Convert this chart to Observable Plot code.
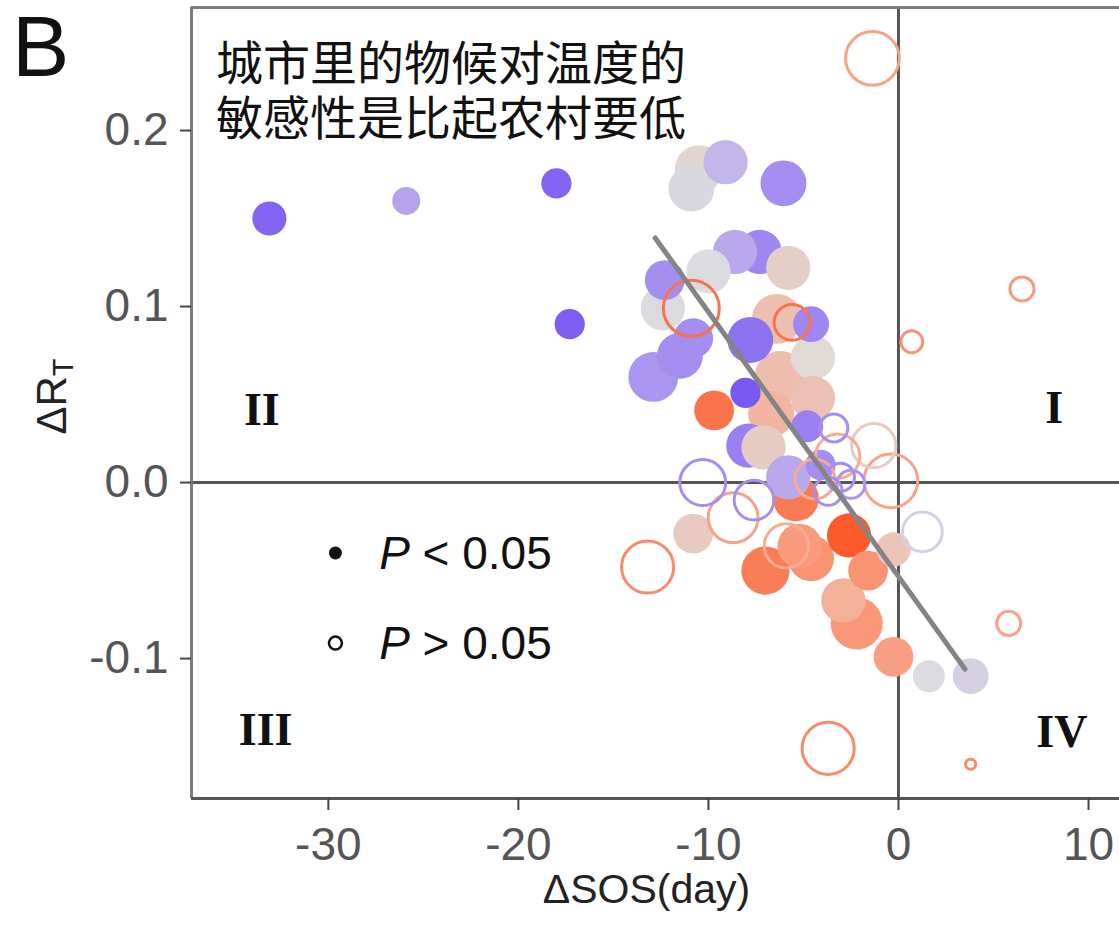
<!DOCTYPE html>
<html><head><meta charset="utf-8">
<script src="https://cdn.jsdelivr.net/npm/d3@7"></script>
<script src="https://cdn.jsdelivr.net/npm/@observablehq/plot@0.6"></script>
<style>
body{margin:0;background:#fff;}
#chart{position:relative;width:1119px;height:926px;overflow:hidden;}
</style>
</head><body><div id="chart"></div>
<script>
// ---- data ----
// filled = P < 0.05, open = P > 0.05
const sosFilled  = [-33.1,-25.9,-18.0,-17.3,-10.9,-9.1,-10.5,-6.05,-7.3,-8.6,-10.0,-12.3,-12.4,-5.8,-10.8,-11.5,-12.9,-7.8,-4.6,-6.4,-4.5,-6.2,-4.5,-8.05,-9.7,-6.7,-4.8,-7.9,-7.1,-4.1,-5.8,-5.4,-10.8,-0.26,-2.6,-5.2,-4.6,-7.0,-1.6,-2.9,-2.2,-0.26,1.6,3.8];
const rtFilled   = [0.150,0.160,0.170,0.090,0.167,0.182,0.178,0.170,0.131,0.131,0.120,0.115,0.099,0.122,0.082,0.072,0.060,0.081,0.090,0.093,0.071,0.060,0.048,0.051,0.041,0.039,0.032,0.021,0.020,0.010,0.003,-0.009,-0.029,-0.038,-0.030,-0.036,-0.043,-0.050,-0.050,-0.067,-0.080,-0.099,-0.110,-0.110];
const sizeFilled = [6.1,5.0,5.4,5.4,8.2,7.9,8.6,8.2,7.9,7.9,7.9,7.1,7.9,7.9,7.1,8.2,8.9,8.2,6.4,8.9,7.9,9.3,7.9,5.4,7.1,8.2,5.7,7.9,7.9,5.4,7.9,8.2,7.1,6.1,7.9,7.9,8.2,8.6,7.1,7.9,9.3,7.1,5.7,6.4];
const toneFilled = [-0.9,-0.45,-0.9,-0.95,-0.05,-0.3,0.08,-0.6,-0.65,-0.4,-0.02,-0.6,-0.03,0.15,-0.6,-0.6,-0.55,-0.8,-0.65,0.3,0.05,0.32,0.28,-1,0.85,0.4,-0.7,-0.7,0.18,-0.6,-0.4,0.8,0.2,0.25,1,0.6,0.65,0.78,0.65,0.45,0.62,0.58,-0.02,-0.1];

const sosOpen  = [-1.37,-10.9,-5.6,6.5,0.7,-3.4,-1.3,-3.2,-3.05,-2.5,-3.7,-4.4,-0.4,-10.3,-7.6,-8.7,-5.9,-13.2,1.26,5.8,3.8,-3.7];
const rtOpen   = [0.241,0.099,0.091,0.110,0.080,0.031,0.021,0.015,0.003,-0.001,-0.005,0.002,0.001,0.000,-0.010,-0.020,-0.036,-0.048,-0.028,-0.080,-0.160,-0.151];
const sizeOpen = [9.6,10,6.4,4.3,3.9,5.0,7.9,7.9,5.0,5.0,5.0,7.1,9.6,8.2,7.1,8.9,7.9,9.3,7.1,4.3,1.8,9.3];
const toneOpen = [0.55,0.85,0.85,0.6,0.65,-0.6,0.2,0.5,-0.6,-0.55,-0.6,0.5,0.55,-0.6,-0.6,0.55,0.5,0.7,-0.1,0.55,0.7,0.7];

const xTicks = [-30,-20,-10,0,10];
const yTicks = [-0.1,0,0.1,0.2];
const quadrantNames = ["I","II","III","IV"];
const quadrantSOS = [8.2,-33.5,-33.3,8.6];
const quadrantRT  = [0.042,0.041,-0.141,-0.142];
const fitRange = [-12.8, 3.5];
const fitIntercept = -0.0534, fitSlope = -0.01503;
const legendLabels = ["< 0.05", "> 0.05"];
const legendSOS = -29.6, legendTextSOS = -27.3;
const legendRT = [-0.0403, -0.0915];
const noteLines = ["城市里的物候对温度的", "敏感性是比起农村要低"];
const xDomain = [-37.2, 11.63], yDomain = [-0.1795, 0.2699];

// ---- tables ----
const filled = sosFilled.map((x,i)=>({x, y: rtFilled[i], size: sizeFilled[i], tone: toneFilled[i]}));
const open = sosOpen.map((x,i)=>({x, y: rtOpen[i], size: sizeOpen[i], tone: toneOpen[i]}));
const fit = fitRange.map(x=>({x, y: fitIntercept + fitSlope*x}));
const quads = quadrantNames.map((t,i)=>({t, x: quadrantSOS[i], y: quadrantRT[i]}));

const frameColor = "#7d7d7d";
const plot = Plot.plot({
  width: 1119, height: 926,
  marginLeft: 191, marginRight: 0, marginTop: 7, marginBottom: 128,
  style: {fontFamily: "'Liberation Sans', Arial, sans-serif", background: "white", overflow: "visible"},
  x: {domain: xDomain},
  y: {domain: yDomain},
  r: {type: "linear", domain: [0, 10], range: [0, 28]},
  color: {type: "linear", domain: [-1, -0.5, 0, 0.5, 1], range: ["#7857f2", "#b09cf0", "#dedede", "#f7ab92", "#fb5a2b"]},
  marks: [
    Plot.ruleY([0], {stroke: "#555", strokeWidth: 3}),
    Plot.ruleX([0], {stroke: "#555", strokeWidth: 3}),
    Plot.dot(filled, {x: "x", y: "y", r: "size", fill: "tone"}),
    Plot.dot(open, {x: "x", y: "y", r: "size", stroke: "tone", strokeWidth: 3, fill: "none"}),
    Plot.line(fit, {x: "x", y: "y", stroke: "#848484", strokeWidth: 5}),
    Plot.text(quads, {x: "x", y: "y", text: "t", fontFamily: "'Liberation Serif', 'Times New Roman', serif", fontWeight: "bold", fontSize: 46, fill: "#111"}),
    Plot.ruleX([xDomain[0]], {stroke: frameColor, strokeWidth: 3}),
    Plot.ruleY([yDomain[0]], {stroke: "#555", strokeWidth: 3}),
    Plot.ruleY([yDomain[1]], {stroke: frameColor, strokeWidth: 3}),
    Plot.axisX({ticks: xTicks, tickFormat: d => String(d), tickSize: 12, tickPadding: 17, fontSize: 46, stroke: "#444", fill: "#555", strokeWidth: 2, label: null}),
    Plot.axisY({ticks: yTicks, tickFormat: d => d.toFixed(1), tickSize: 11, tickPadding: 12, fontSize: 46, stroke: "#444", fill: "#555", strokeWidth: 2, label: null}),
    Plot.text(["ΔSOS(day)"], {frameAnchor: "bottom", dx: -9, dy: 104, fontSize: 41, fill: "#222"})
  ]
});
document.getElementById("chart").appendChild(plot);

// ---- annotations appended with d3, positioned through the plot's scales ----
const svg = d3.select(plot);
const sx = plot.scale("x"), sy = plot.scale("y");
const sans = "'Liberation Sans', Arial, sans-serif";

svg.append("text").attr("x", 12).attr("y", 76).attr("text-anchor", "start")
  .attr("font-size", 86).attr("font-family", sans)
  .attr("fill", "#111").text("B");

const note = svg.append("text").attr("font-family", "'Noto Sans CJK SC', sans-serif")
  .attr("text-anchor", "start").attr("font-size", 47).attr("fill", "#111");
noteLines.forEach((l,i)=>note.append("tspan").attr("x", 216).attr("y", 80 + i*55).text(l));

const yl = svg.append("text")
  .attr("transform", `translate(66,${(sy.apply(yDomain[0]) + sy.apply(yDomain[1]))/2 - 6}) rotate(-90)`)
  .attr("text-anchor", "middle").attr("font-size", 42).attr("fill", "#222")
  .attr("font-family", sans);
yl.append("tspan").text("ΔR");
yl.append("tspan").attr("font-size", 29).attr("dy", 7).text("T");

legendRT.forEach((v,i)=>{
  const cx = sx.apply(legendSOS), cy = sy.apply(v);
  const c = svg.append("circle").attr("cx", cx).attr("cy", cy);
  if (i === 0) c.attr("r", 6.5).attr("fill", "#111");
  else c.attr("r", 6.5).attr("fill", "none").attr("stroke", "#111").attr("stroke-width", 2.5);
  const t = svg.append("text").attr("x", sx.apply(legendTextSOS)).attr("y", cy + 16)
    .attr("text-anchor", "start")
    .attr("font-size", 46).attr("fill", "#111")
    .attr("font-family", sans);
  t.append("tspan").attr("font-style", "italic").text("P");
  t.append("tspan").text(" " + legendLabels[i]);
});
</script>
</body></html>
